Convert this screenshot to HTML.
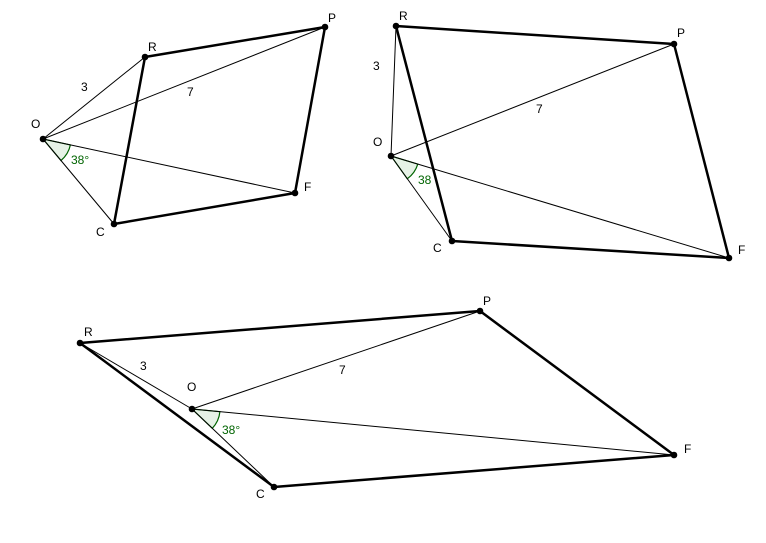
<!DOCTYPE html>
<html><head><style>body{margin:0;background:#fff}svg{display:block}text{font-family:"Liberation Sans",sans-serif;font-size:12px;fill:#000}.g{fill:#006400}</style></head>
<body>
<svg width="766" height="543" viewBox="0 0 766 543">
<g stroke="#006400" stroke-width="1.2" fill="#e6f2e6">
<path d="M43,139 L70.4,144.9 A28,28 0 0 1 61.0,160.5 Z"/>
<path d="M391,156 L417.8,164.1 A28,28 0 0 1 407.3,178.8 Z"/>
<path d="M192,409 L219.9,411.7 A28,28 0 0 1 212.3,428.3 Z"/>
</g>
<g stroke="#000" stroke-width="1" fill="none">
<path d="M43,139L145,57M43,139L325,27M43,139L295,193M43,139L114,224"/>
<path d="M391,156L396,26M391,156L674,44M391,156L729,258M391,156L452,241"/>
<path d="M192,409L80,343M192,409L480,311M192,409L674,455M192,409L274,487"/>
</g>
<g stroke="#000" stroke-width="2.5" fill="none" stroke-linejoin="round">
<path d="M145,57L325,27L295,193L114,224Z"/>
<path d="M396,26L674,44L729,258L452,241Z"/>
<path d="M80,343L480,311L674,455L274,487Z"/>
</g>
<g fill="#000">
<circle cx="43" cy="139" r="3.3"/><circle cx="145" cy="57" r="3.3"/><circle cx="325" cy="27" r="3.3"/><circle cx="295" cy="193" r="3.3"/><circle cx="114" cy="224" r="3.3"/>
<circle cx="391" cy="156" r="3.3"/><circle cx="396" cy="26" r="3.3"/><circle cx="674" cy="44" r="3.3"/><circle cx="729" cy="258" r="3.3"/><circle cx="452" cy="241" r="3.3"/>
<circle cx="192" cy="409" r="3.3"/><circle cx="80" cy="343" r="3.3"/><circle cx="480" cy="311" r="3.3"/><circle cx="674" cy="455" r="3.3"/><circle cx="274" cy="487" r="3.3"/>
</g>
<text x="148" y="51">R</text><text x="328" y="22">P</text><text x="31" y="128">O</text><text x="304" y="191">F</text><text x="96" y="236">C</text>
<text x="81" y="91">3</text><text x="187" y="96">7</text><text x="71" y="164" class="g">38°</text>
<text x="399" y="20">R</text><text x="677" y="37">P</text><text x="373" y="146">O</text><text x="738" y="254">F</text><text x="433" y="252">C</text>
<text x="373" y="70">3</text><text x="536" y="113">7</text><text x="418" y="184" class="g">38</text>
<text x="84" y="336">R</text><text x="483" y="305">P</text><text x="187" y="391">O</text><text x="684" y="453">F</text><text x="256" y="498">C</text>
<text x="140" y="370">3</text><text x="339" y="374">7</text><text x="222" y="434" class="g">38°</text>
</svg>
</body></html>
